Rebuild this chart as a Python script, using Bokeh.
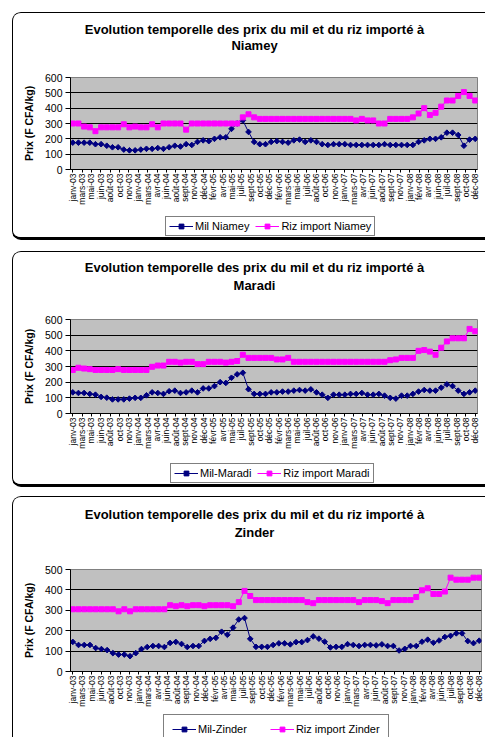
import math
from bokeh.plotting import figure
from bokeh.models import Legend, LegendItem, FixedTicker, Range1d
from bokeh.core.properties import value
from bokeh.layouts import column
from bokeh.embed import file_html
from bokeh.resources import INLINE

FONT = "Liberation Sans"

# ---------------- data ----------------
tick_labels = ["janv-03", "mars-03", "mai-03", "juin-03", "août-03", "oct-03", "nov-03",
               "janv-04", "mars-04", "avr-04", "juin-04", "août-04", "sept-04", "nov-04", "déc-04",
               "févr-05", "avr-05", "mai-05", "juil-05", "sept-05", "oct-05", "déc-05",
               "févr-06", "mars-06", "mai-06", "juil-06", "août-06", "oct-06", "nov-06",
               "janv-07", "mars-07", "avr-07", "juin-07", "août-07", "sept-07", "nov-07",
               "janv-08", "févr-08", "avr-08", "juin-08", "juil-08", "sept-08", "oct-08", "déc-08"]

months = list(range(72))  # janv-03 ... déc-08

niamey_mil = [175, 175, 175, 175, 165, 165, 155, 145, 145, 130,
              125, 125, 130, 135, 135, 140, 135, 145, 155, 150,
              165, 160, 180, 190, 185, 200, 210, 210, 265, 300,
              320, 245, 180, 165, 165, 180, 185, 180, 175, 190,
              195, 180, 190, 180, 165, 160, 165, 165, 165, 160,
              160, 160, 160, 160, 160, 165, 160, 160, 160, 160,
              160, 180, 190, 200, 200, 210, 240, 240, 225, 155, 195, 200]
niamey_riz = [300, 300, 280, 275, 250, 275, 275, 275, 275, 295,
              275, 280, 275, 275, 295, 275, 300, 300, 300, 300,
              260, 300, 300, 300, 300, 300, 300, 300, 300, 300,
              340, 360, 340, 330, 330, 330, 330, 330, 330, 330,
              330, 330, 330, 330, 330, 330, 330, 330, 330, 330,
              320, 330, 320, 320, 300, 300, 330, 330, 330, 330,
              340, 365, 400, 355, 370, 410, 450, 450, 480, 505, 480, 450]

maradi_mil = [135, 131, 131, 125, 120, 106, 101, 90, 90, 90,
              95, 100, 100, 116, 135, 131, 125, 142, 146, 131,
              135, 146, 135, 160, 160, 175, 200, 195, 228, 250,
              260, 155, 125, 125, 125, 135, 135, 140, 140, 146,
              150, 146, 154, 135, 120, 100, 120, 120, 120, 125,
              125, 131, 120, 120, 125, 114, 100, 95, 114, 114,
              125, 140, 150, 146, 146, 165, 186, 175, 146, 125, 135, 146]
maradi_riz = [278, 292, 287, 283, 278, 278, 278, 278, 283, 278,
              278, 278, 278, 278, 298, 306, 306, 330, 330, 325,
              330, 330, 315, 315, 330, 330, 330, 325, 330, 335,
              375, 355, 355, 355, 355, 355, 345, 345, 355, 330,
              330, 330, 330, 330, 330, 330, 330, 330, 330, 330,
              330, 330, 330, 330, 330, 330, 340, 345, 355, 355,
              355, 400, 405, 395, 375, 420, 460, 480, 480, 480, 540, 525]

zinder_mil = [145, 130, 130, 130, 115, 110, 105, 90, 83, 83,
              75, 90, 110, 120, 125, 125, 120, 140, 145, 135,
              120, 125, 125, 150, 160, 165, 195, 180, 215, 255,
              262, 160, 121, 121, 121, 130, 138, 138, 133, 144,
              144, 154, 172, 161, 146, 118, 121, 121, 134, 130,
              125, 130, 130, 128, 133, 125, 125, 103, 111, 125,
              125, 146, 156, 141, 152, 169, 175, 187, 187, 149, 139, 151]
zinder_riz = [305, 305, 305, 305, 305, 305, 305, 305, 295, 305,
              295, 305, 305, 305, 305, 305, 305, 325, 320, 325,
              320, 325, 325, 320, 325, 325, 325, 325, 320, 340,
              395, 370, 350, 350, 350, 350, 350, 350, 350, 350,
              350, 340, 335, 350, 350, 350, 350, 350, 350, 350,
              340, 350, 350, 350, 345, 335, 350, 350, 350, 350,
              365, 398, 408, 380, 380, 392, 460, 450, 450, 450, 460, 460]

title_line1 = "Evolution temporelle des prix du mil et du riz importé à"
y_title = "Prix (F CFA/kg)"

# evenly spaced date-axis labels over the 72 months
n_lab = len(tick_labels)
x_ticks = [round(k * (len(months) - 1) / (n_lab - 1), 4) for k in range(n_lab)]
x_overrides = {t: lab for t, lab in zip(x_ticks, tick_labels)}

W = 472
BL = 57          # left border of the chart frame inside each panel
MIL_COLOR = "#000080"
RIZ_COLOR = "#FF00FF"


def blank_fig(h, mb_right):
    # frames of figures in one column are aligned with the chart frame,
    # so the x range is expressed in canvas pixels of that frame
    f = figure(width=W, height=h, output_backend="svg", toolbar_location=None,
               x_range=Range1d(BL, W - mb_right), y_range=Range1d(h, 0),
               x_axis_location=None, y_axis_location=None,
               min_border_left=BL, min_border_right=mb_right,
               min_border_top=0, min_border_bottom=0,
               background_fill_color="white", border_fill_color="white",
               outline_line_color=None)
    f.xgrid.grid_line_color = None
    f.ygrid.grid_line_color = None
    return f


def make_panel(city, mil, riz, mil_name, riz_name, ymax,
               title_h, title_ys, main_h, mb_top, mb_bottom, mb_right,
               leg_h, legend_loc, legend_pad, legend_spacing, margin_top, styles):
    # ---- title strip
    t = blank_fig(title_h, mb_right)
    t.text(x=[241, 241], y=list(title_ys), text=[title_line1, city],
           text_font=value(FONT), text_font_style="bold", text_font_size="13px",
           text_align="center", text_baseline="middle", text_color="black")

    # ---- chart
    p = figure(width=W, height=main_h, output_backend="svg", toolbar_location=None,
               x_range=Range1d(-0.4, 71.4), y_range=Range1d(0, ymax),
               min_border_left=BL, min_border_right=mb_right, min_border_top=mb_top,
               min_border_bottom=mb_bottom,
               background_fill_color="#C0C0C0", border_fill_color="white",
               outline_line_color="#808080")

    p.yaxis.ticker = FixedTicker(ticks=list(range(0, ymax + 1, 100)))
    p.yaxis.major_label_text_font = FONT
    p.yaxis.major_label_text_font_size = "10.5px"
    p.yaxis.major_label_text_color = "black"
    p.yaxis.axis_line_color = "black"
    p.yaxis.major_tick_line_color = "black"
    p.yaxis.major_tick_out = 5
    p.yaxis.major_tick_in = 0
    p.yaxis.minor_tick_line_color = None
    p.yaxis.major_label_standoff = 3
    p.yaxis.axis_label = y_title
    p.yaxis.axis_label_text_font = FONT
    p.yaxis.axis_label_text_font_style = "bold"
    p.yaxis.axis_label_text_font_size = "10.5px"
    p.yaxis.axis_label_text_color = "black"
    p.yaxis.axis_label_standoff = 7

    p.xaxis.ticker = FixedTicker(ticks=x_ticks)
    p.xaxis.major_label_overrides = x_overrides
    p.xaxis.major_label_orientation = math.pi / 2
    p.xaxis.major_label_text_font = FONT
    p.xaxis.major_label_text_font_size = "8.5px"
    p.xaxis.major_label_text_color = "black"
    p.xaxis.axis_line_color = "black"
    p.xaxis.major_tick_line_color = "black"
    p.xaxis.major_tick_out = 3
    p.xaxis.major_tick_in = 0
    p.xaxis.minor_tick_line_color = None
    p.xaxis.major_label_standoff = 1

    p.xgrid.grid_line_color = None
    p.ygrid.ticker = FixedTicker(ticks=list(range(0, ymax + 1, 100)))
    p.ygrid.grid_line_color = "black"
    p.ygrid.grid_line_width = 1

    p.line(months, mil, line_color=MIL_COLOR, line_width=1)
    p.scatter(months, mil, marker="square", angle=math.pi / 4, size=4,
              fill_color=MIL_COLOR, line_color=MIL_COLOR)
    p.line(months, riz, line_color=RIZ_COLOR, line_width=1)
    p.scatter(months, riz, marker="square", size=5,
              fill_color=RIZ_COLOR, line_color=RIZ_COLOR)

    # ---- legend strip: same series re-plotted there (they fall outside its
    # small y range, so only their legend keys are visible)
    lg = blank_fig(leg_h, mb_right)
    kl1 = lg.line(months, mil, line_color=MIL_COLOR, line_width=1)
    ks1 = lg.scatter(months, mil, marker="square", angle=math.pi / 4, size=4,
                     fill_color=MIL_COLOR, line_color=MIL_COLOR)
    kl2 = lg.line(months, riz, line_color=RIZ_COLOR, line_width=1)
    ks2 = lg.scatter(months, riz, marker="square", size=5,
                     fill_color=RIZ_COLOR, line_color=RIZ_COLOR)
    legend = Legend(items=[LegendItem(label=mil_name, renderers=[kl1, ks1]),
                           LegendItem(label=riz_name, renderers=[kl2, ks2])],
                    location=legend_loc, orientation="horizontal",
                    label_text_font=FONT, label_text_font_size="11px",
                    label_text_color="black",
                    glyph_width=24, glyph_height=12, label_height=12,
                    label_standoff=2, spacing=legend_spacing, padding=legend_pad,
                    margin=0, border_line_color="black", border_line_width=1,
                    background_fill_color="white", background_fill_alpha=1.0)
    lg.add_layout(legend, "center")

    return column(t, p, lg, spacing=0, styles=styles, margin=(margin_top, 0, 0, 12))


base = {"border-top": "1px solid #000", "border-left": "1px solid #000",
        "border-top-left-radius": "9px", "overflow": "hidden", "background": "white"}
st12 = dict(base)
st12.update({"border-bottom": "3px solid #000", "border-bottom-left-radius": "9px"})
st3 = dict(base)

c1 = make_panel("Niamey", niamey_mil, niamey_riz, "Mil Niamey", "Riz import Niamey", 600,
                55, (16, 32), 141, 9, 40, 8,
                28, (95, 1), 3, 6, 12, st12)
c2 = make_panel("Maradi", maradi_mil, maradi_riz, "Mil-Maradi", "Riz import Maradi", 600,
                55, (15, 33), 146, 12, 40, 8,
                31, (100, 1), 3, 6, 11, st12)
c3 = make_panel("Zinder", zinder_mil, zinder_riz, "Mil-Zinder", "Riz import Zinder", 500,
                58, (17, 35), 156, 14, 40, 4,
                26, (93, -7), 8, 23, 9, st3)

layout = column(c1, c2, c3, spacing=0)

open("out.html", "w").write(file_html(layout, INLINE))
